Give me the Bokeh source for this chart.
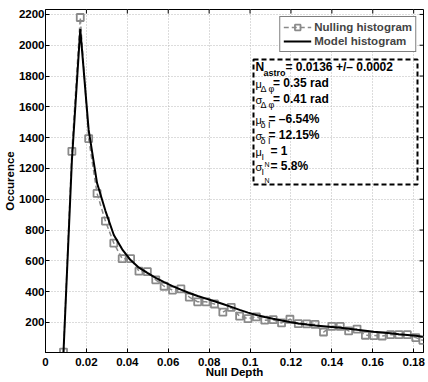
from bokeh.plotting import figure
from bokeh.models import (FixedTicker, Legend, LegendItem, Label,
                          BoxAnnotation, Range1d)
from bokeh.embed import file_html
from bokeh.resources import INLINE

# ---------------- data ----------------
null_depth = [0.0088, 0.0129, 0.0170, 0.0211, 0.0252, 0.0293, 0.0334, 0.0375, 0.0416,
              0.0457, 0.0498, 0.0539, 0.0580, 0.0621, 0.0662, 0.0703, 0.0744, 0.0785,
              0.0826, 0.0867, 0.0908, 0.0949, 0.0990, 0.1031, 0.1072, 0.1113, 0.1154,
              0.1195, 0.1236, 0.1277, 0.1318, 0.1359, 0.1400, 0.1441, 0.1482, 0.1523,
              0.1564, 0.1605, 0.1646, 0.1687, 0.1728, 0.1769, 0.1810, 0.1845]
nulling_hist = [8, 1311, 2180, 1394, 1038, 858, 715, 614, 614, 533, 530, 477, 435, 410,
                418, 365, 334, 334, 320, 267, 298, 241, 225, 236, 215, 218, 197, 221,
                192, 191, 187, 138, 175, 174, 145, 157, 117, 115, 112, 121, 121, 121,
                102, 84]
model_hist = [8, 1250, 2105, 1450, 1105, 925, 768, 675, 605, 556, 522, 490, 462, 436,
              413, 391, 372, 355, 338, 320, 301, 282, 264, 249, 236, 224, 213, 203,
              194, 187, 181, 176, 171, 165, 159, 152, 146, 140, 135, 130, 124, 119,
              113, 107]

x_ticks = [0, 0.02, 0.04, 0.06, 0.08, 0.1, 0.12, 0.14, 0.16, 0.18]
x_tick_labels = ["0", "0.02", "0.04", "0.06", "0.08", "0.1", "0.12", "0.14", "0.16", "0.18"]
y_ticks = [200, 400, 600, 800, 1000, 1200, 1400, 1600, 1800, 2000, 2200]

series_labels = ["Nulling histogram", "Model histogram"]

param_symbols = ["N", "\u03bc", "\u03c3", "\u03bc", "\u03c3", "\u03bc", "\u03c3"]
param_subs = ["astro", "\u0394 \u03c6", "\u0394 \u03c6", "\u03b4 I", "\u03b4 I", "I", "I"]
param_subsubs = ["", "", "", "", "", "N", "N"]
param_values = ["= 0.0136 +/\u2013 0.0002", "= 0.35 rad", "= 0.41 rad", "= \u20136.54%",
                "= 12.15%", "= 1", "= 5.8%"]

# ---------------- style / layout ----------------
FONT = "Liberation Sans"
X0, X1 = 0, 0.1848
Y0, Y1 = 5, 2232
FW, FH = 378, 343
MB_L, MB_R, MB_T, MB_B = 45, 5, 9, 30
GRAY = "#8a8a8a"
TICK_PX = 4

p = figure(frame_width=FW, frame_height=FH, output_backend="svg", toolbar_location=None,
           x_range=Range1d(X0, X1), y_range=Range1d(Y0, Y1),
           min_border_left=MB_L, min_border_right=MB_R,
           min_border_top=MB_T, min_border_bottom=MB_B,
           background_fill_color="white", border_fill_color="white")
p.outline_line_color = "black"
p.outline_line_width = 1

xax = p.xaxis[0]
yax = p.yaxis[0]
xax.ticker = FixedTicker(ticks=x_ticks)
yax.ticker = FixedTicker(ticks=y_ticks)
xax.major_label_overrides = {t: s for t, s in zip(x_ticks, x_tick_labels)}
for ax in (xax, yax):
    ax.major_tick_in = TICK_PX
    ax.major_tick_out = 0
    ax.minor_tick_line_color = None
    ax.major_tick_line_color = "black"
    ax.axis_line_color = "black"
    ax.major_label_text_font = FONT
    ax.major_label_text_font_style = "bold"
    ax.major_label_text_font_size = "11.5px"
    ax.major_label_text_color = "black"
    ax.axis_label_text_font = FONT
    ax.axis_label_text_font_style = "bold"
    ax.axis_label_text_font_size = "11.5px"
    ax.axis_label_text_color = "black"
xax.axis_label = "Null Depth"
yax.axis_label = "Occurence"
xax.major_label_standoff = 5
xax.axis_label_standoff = -3
yax.major_label_standoff = 1
yax.axis_label_standoff = 0

for g in (p.xgrid[0], p.ygrid[0]):
    g.grid_line_color = "#b8b8b8"
    g.grid_line_dash = "1 2"
    g.grid_line_width = 1

# tick marks on the top and right edges of the box (MATLAB style)
tick_len_y = TICK_PX * (Y1 - Y0) / FH
tick_len_x = TICK_PX * (X1 - X0) / FW
p.segment(x0=x_ticks, y0=[Y1] * len(x_ticks), x1=x_ticks,
          y1=[Y1 - tick_len_y] * len(x_ticks), line_color="black", line_width=1)
p.segment(x0=[X1] * len(y_ticks), y0=y_ticks, x1=[X1 - tick_len_x] * len(y_ticks),
          y1=y_ticks, line_color="black", line_width=1)

# ---------------- glyphs ----------------
r_hist_line = p.line(null_depth, nulling_hist, line_color=GRAY, line_width=1.5,
                     line_dash="5 3")
r_hist_pts = p.scatter(null_depth, nulling_hist, marker="square", size=7,
                       line_color=GRAY, line_width=1.8, fill_color=None)
r_model = p.line(null_depth, model_hist, line_color="black", line_width=2)

legend = Legend(items=[LegendItem(label=series_labels[0], renderers=[r_hist_line, r_hist_pts]),
                       LegendItem(label=series_labels[1], renderers=[r_model])],
                location="top_right")
legend.margin = 7
legend.padding = 3
legend.spacing = 0
legend.glyph_width = 28
legend.glyph_height = 14
legend.label_height = 14
legend.label_standoff = 3
legend.label_text_font = FONT
legend.label_text_font_style = "bold"
legend.label_text_font_size = "11.5px"
legend.border_line_color = "black"
legend.border_line_width = 1.5
legend.background_fill_color = "white"
legend.background_fill_alpha = 1
p.add_layout(legend)

# ---------------- parameter box ----------------
box_right = FW - 6
box_left = box_right - 164
box_top = FH - 50
box_bottom = box_top - 125
p.add_layout(BoxAnnotation(left=box_left, right=box_right, top=box_top, bottom=box_bottom,
                           left_units="screen", right_units="screen",
                           top_units="screen", bottom_units="screen",
                           fill_alpha=0, line_color="black", line_alpha=1, line_width=2,
                           line_dash="5 3"))

line_offsets = [7.4, 23, 39.7, 59, 75.7, 91.4, 106.7]
sub_dx = [10, 7, 7, 7, 7, 8, 8]
val_dx = [32, 19.5, 19.5, 15, 15, 17, 17]
for i in range(len(param_symbols)):
    yc = box_top - line_offsets[i]
    is_latin = param_symbols[i] == "N"
    p.add_layout(Label(x=box_left + 2, y=yc - (0 if is_latin else 1),
                       x_units="screen", y_units="screen",
                       text=param_symbols[i], text_font=FONT,
                       text_font_style="bold" if is_latin else "normal",
                       text_font_size="12px" if is_latin else "11px",
                       text_baseline="middle", text_align="left", text_color="black"))
    p.add_layout(Label(x=box_left + sub_dx[i], y=yc - 6,
                       x_units="screen", y_units="screen",
                       text=param_subs[i], text_font=FONT,
                       text_font_style="bold" if is_latin else "normal",
                       text_font_size="9px",
                       text_baseline="middle", text_align="left", text_color="black"))
    if param_subsubs[i]:
        p.add_layout(Label(x=box_left + sub_dx[i] + 3, y=yc - 14,
                           x_units="screen", y_units="screen",
                           text=param_subsubs[i], text_font=FONT,
                           text_font_style="normal", text_font_size="7px",
                           text_baseline="middle", text_align="left", text_color="black"))
    p.add_layout(Label(x=box_left + val_dx[i], y=yc,
                       x_units="screen", y_units="screen",
                       text=param_values[i], text_font=FONT,
                       text_font_style="bold", text_font_size="12px",
                       text_baseline="middle", text_align="left", text_color="black"))

open("out.html", "w").write(file_html(p, INLINE))
